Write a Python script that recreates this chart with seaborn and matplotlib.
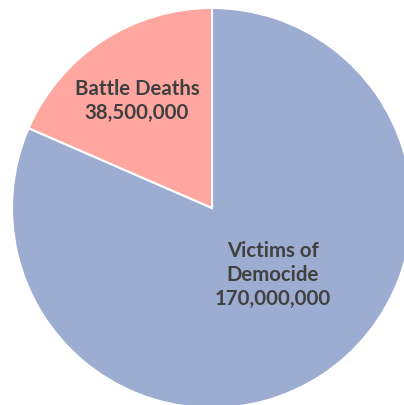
import matplotlib
matplotlib.use("Agg")
import matplotlib.pyplot as plt
import seaborn as sns

categories = ["Victims of\nDemocide", "Battle Deaths"]
values = [170000000, 38500000]
value_labels = ["170,000,000", "38,500,000"]
colors = ["#9dadd1", "#ffa6a0"]

sns.set_style("white")
plt.rcParams['font.family'] = ['Lato', 'DejaVu Sans']

fig = plt.figure(figsize=(4.04, 4.05), dpi=100)
ax = fig.add_axes([0, 0, 1, 1])
labels = [f"{c}\n{v}" for c, v in zip(categories, value_labels)]
wedges, texts = ax.pie(values, colors=colors, startangle=90, counterclock=False,
                       labels=labels, labeldistance=0.6,
                       wedgeprops=dict(edgecolor="white", linewidth=1.5),
                       textprops=dict(fontsize=14.7, fontweight="bold", color="#404040",
                                      ha="center", va="center", linespacing=1.22))
texts[0].set_position((0.305, -0.335))
texts[1].set_position((-0.375, 0.535))
for t in texts:
    t.set_ha("center"); t.set_va("center")
ax.set_aspect("auto")
ax.set_xlim(-1.06, 0.96)
ax.set_ylim(-0.985, 1.04)
ax.axis("off")
fig.savefig("out.png", dpi=100)
